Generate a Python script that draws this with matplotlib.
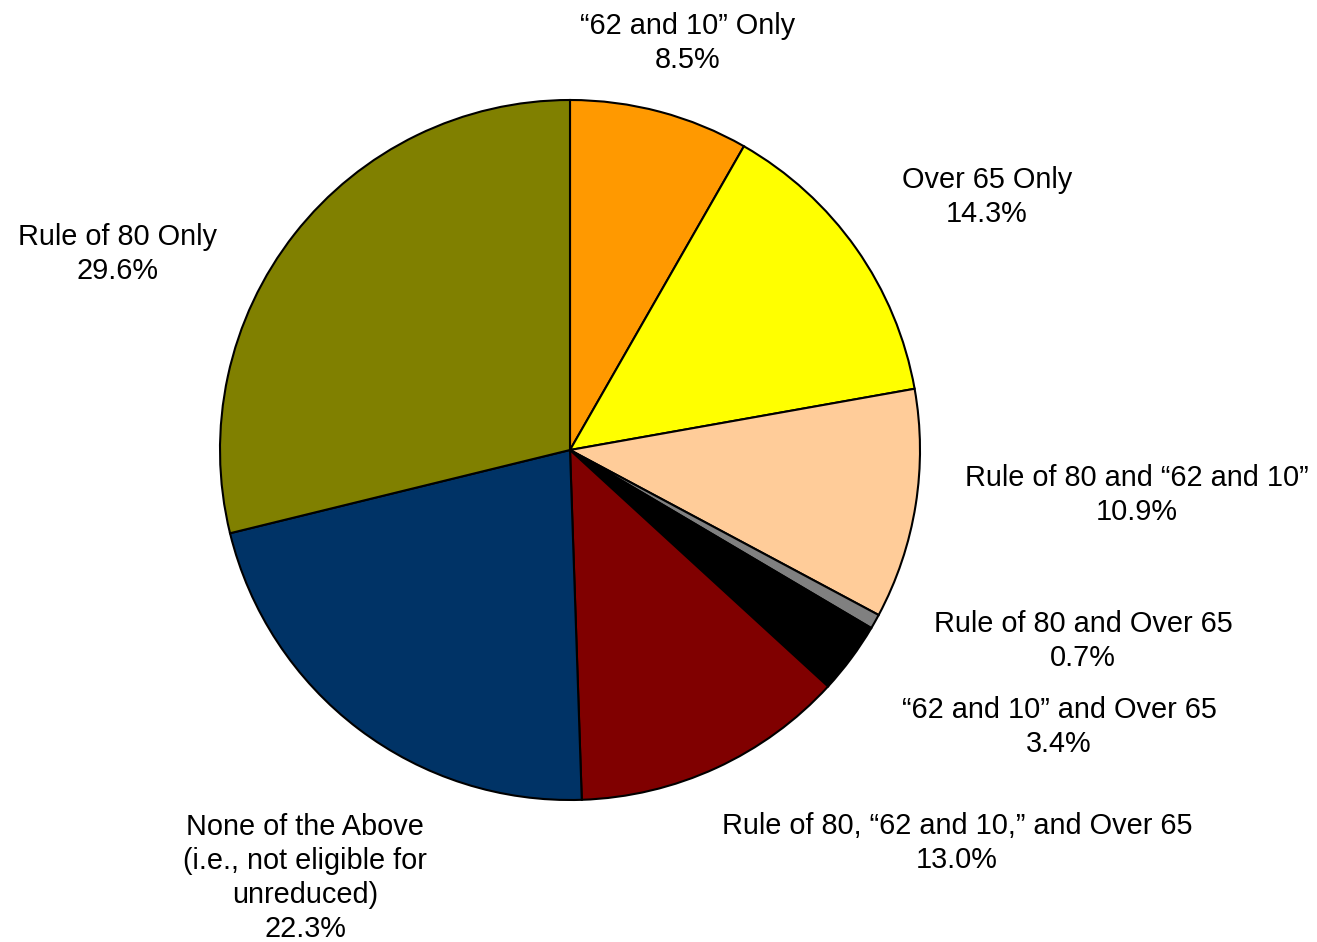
import matplotlib
matplotlib.use("Agg")
import matplotlib.pyplot as plt

# slice data, clockwise from 12 o'clock
labels = ["\u201c62 and 10\u201d Only",
          "Over 65 Only",
          "Rule of 80 and \u201c62 and 10\u201d",
          "Rule of 80 and Over 65",
          "\u201c62 and 10\u201d and Over 65",
          "Rule of 80, \u201c62 and 10,\u201d and Over 65",
          "None of the Above\n(i.e., not eligible for\nunreduced)",
          "Rule of 80 Only"]
values = [8.5, 14.3, 10.9, 0.7, 3.4, 13.0, 22.3, 29.6]
colors = ["#FF9900", "#FFFF00", "#FFCC99", "#808080", "#000000",
          "#800000", "#003366", "#808000"]

# where each label sits (data units, pie radius = 1)
label_pos = [(0.337, 1.163), (1.191, 0.723), (1.620, -0.129), (1.466, -0.546),
             (1.397, -0.791), (1.106, -1.123), (-0.757, -1.223), (-1.294, 0.560)]

plt.rcParams['font.family'] = ['Liberation Sans', 'DejaVu Sans']

fig = plt.figure(figsize=(13.17, 9.42), dpi=100)
ax = fig.add_axes([0, 0, 1, 1])

ax.pie(values, colors=colors, startangle=90, counterclock=False,
       wedgeprops=dict(edgecolor='black', linewidth=1.5))

for lab, val, (x, y) in zip(labels, values, label_pos):
    ax.text(x, y, lab + "\n%.1f%%" % val, ha='center', va='center',
            fontsize=20.8, linespacing=1.27)

ax.set_xlim(-570 / 350, 747 / 350)
ax.set_ylim(-492 / 350, 450 / 350)
ax.set_aspect('equal')
ax.axis('off')

fig.savefig("out.png", dpi=100)
